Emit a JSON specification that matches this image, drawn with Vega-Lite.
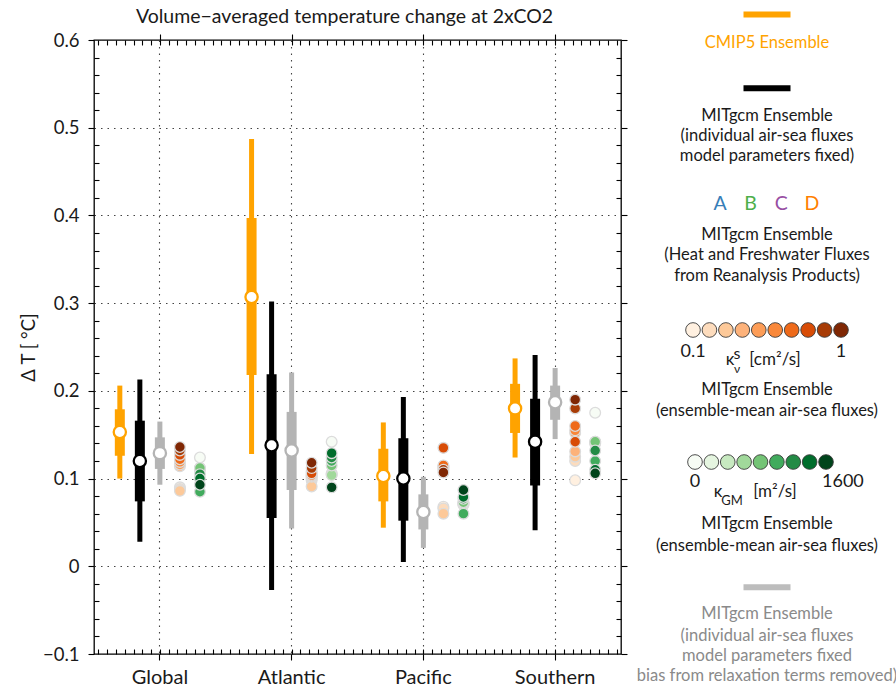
{
"$schema": "https://vega.github.io/schema/vega-lite/v6.json",
"width": 527, "height": 614,
"autosize": "none",
"padding": {"left": 94, "top": 40, "right": 275, "bottom": 36},
"background": "white",
"config": {
  "font": "Lato, DejaVu Sans, sans-serif",
  "view": {"stroke": "#000", "strokeWidth": 1.3},
  "legend": {"disable": true},
  "axis": {"labelColor": "#1a1a1a", "titleColor": "#1a1a1a", "tickColor": "#000", "tickWidth": 1.1, "domain": false, "grid": false, "titleFontWeight": "normal"}
},
"title": {"text": "Volume\u2212averaged temperature change at 2xCO2", "fontSize": 19.5, "fontWeight": "normal", "color": "#1a1a1a", "anchor": "middle", "frame": "group", "offset": -25, "dx": -13},
"datasets": {
  "stats": [
    {"region": "Global", "series": "CMIP5", "lo": 0.100, "q1": 0.126, "med": 0.153, "q3": 0.179, "hi": 0.206},
    {"region": "Global", "series": "MITfix", "lo": 0.028, "q1": 0.074, "med": 0.120, "q3": 0.166, "hi": 0.213},
    {"region": "Global", "series": "MITrem", "lo": 0.093, "q1": 0.111, "med": 0.129, "q3": 0.147, "hi": 0.165},
    {"region": "Atlantic", "series": "CMIP5", "lo": 0.128, "q1": 0.218, "med": 0.307, "q3": 0.397, "hi": 0.487},
    {"region": "Atlantic", "series": "MITfix", "lo": -0.027, "q1": 0.055, "med": 0.138, "q3": 0.219, "hi": 0.302},
    {"region": "Atlantic", "series": "MITrem", "lo": 0.043, "q1": 0.087, "med": 0.132, "q3": 0.176, "hi": 0.221},
    {"region": "Pacific", "series": "CMIP5", "lo": 0.044, "q1": 0.074, "med": 0.103, "q3": 0.134, "hi": 0.164},
    {"region": "Pacific", "series": "MITfix", "lo": 0.005, "q1": 0.052, "med": 0.100, "q3": 0.146, "hi": 0.193},
    {"region": "Pacific", "series": "MITrem", "lo": 0.021, "q1": 0.042, "med": 0.062, "q3": 0.082, "hi": 0.102},
    {"region": "Southern", "series": "CMIP5", "lo": 0.124, "q1": 0.152, "med": 0.180, "q3": 0.208, "hi": 0.237},
    {"region": "Southern", "series": "MITfix", "lo": 0.041, "q1": 0.092, "med": 0.142, "q3": 0.191, "hi": 0.241},
    {"region": "Southern", "series": "MITrem", "lo": 0.145, "q1": 0.167, "med": 0.187, "q3": 0.206, "hi": 0.226}
  ],
  "sweep": [
    {"region": "Global", "ens": "Kv", "param": 0.1, "dT": 0.090},
    {"region": "Global", "ens": "Kv", "param": 0.2, "dT": 0.088},
    {"region": "Global", "ens": "Kv", "param": 0.3, "dT": 0.086},
    {"region": "Global", "ens": "Kv", "param": 0.4, "dT": 0.114},
    {"region": "Global", "ens": "Kv", "param": 0.5, "dT": 0.116},
    {"region": "Global", "ens": "Kv", "param": 0.6, "dT": 0.119},
    {"region": "Global", "ens": "Kv", "param": 0.7, "dT": 0.122},
    {"region": "Global", "ens": "Kv", "param": 0.8, "dT": 0.127},
    {"region": "Global", "ens": "Kv", "param": 0.9, "dT": 0.132},
    {"region": "Global", "ens": "Kv", "param": 1, "dT": 0.136},
    {"region": "Global", "ens": "KGM", "param": 0, "dT": 0.124},
    {"region": "Global", "ens": "KGM", "param": 200, "dT": 0.112},
    {"region": "Global", "ens": "KGM", "param": 400, "dT": 0.111},
    {"region": "Global", "ens": "KGM", "param": 600, "dT": 0.110},
    {"region": "Global", "ens": "KGM", "param": 800, "dT": 0.112},
    {"region": "Global", "ens": "KGM", "param": 1000, "dT": 0.085},
    {"region": "Global", "ens": "KGM", "param": 1200, "dT": 0.105},
    {"region": "Global", "ens": "KGM", "param": 1400, "dT": 0.100},
    {"region": "Global", "ens": "KGM", "param": 1600, "dT": 0.093},
    {"region": "Atlantic", "ens": "Kv", "param": 0.1, "dT": 0.098},
    {"region": "Atlantic", "ens": "Kv", "param": 0.2, "dT": 0.100},
    {"region": "Atlantic", "ens": "Kv", "param": 0.3, "dT": 0.091},
    {"region": "Atlantic", "ens": "Kv", "param": 0.4, "dT": 0.102},
    {"region": "Atlantic", "ens": "Kv", "param": 0.5, "dT": 0.103},
    {"region": "Atlantic", "ens": "Kv", "param": 0.6, "dT": 0.104},
    {"region": "Atlantic", "ens": "Kv", "param": 0.7, "dT": 0.108},
    {"region": "Atlantic", "ens": "Kv", "param": 0.8, "dT": 0.106},
    {"region": "Atlantic", "ens": "Kv", "param": 0.9, "dT": 0.112},
    {"region": "Atlantic", "ens": "Kv", "param": 1, "dT": 0.118},
    {"region": "Atlantic", "ens": "KGM", "param": 0, "dT": 0.142},
    {"region": "Atlantic", "ens": "KGM", "param": 200, "dT": 0.106},
    {"region": "Atlantic", "ens": "KGM", "param": 400, "dT": 0.105},
    {"region": "Atlantic", "ens": "KGM", "param": 600, "dT": 0.104},
    {"region": "Atlantic", "ens": "KGM", "param": 800, "dT": 0.115},
    {"region": "Atlantic", "ens": "KGM", "param": 1000, "dT": 0.120},
    {"region": "Atlantic", "ens": "KGM", "param": 1200, "dT": 0.124},
    {"region": "Atlantic", "ens": "KGM", "param": 1400, "dT": 0.129},
    {"region": "Atlantic", "ens": "KGM", "param": 1600, "dT": 0.090},
    {"region": "Pacific", "ens": "Kv", "param": 0.1, "dT": 0.068},
    {"region": "Pacific", "ens": "Kv", "param": 0.2, "dT": 0.066},
    {"region": "Pacific", "ens": "Kv", "param": 0.3, "dT": 0.060},
    {"region": "Pacific", "ens": "Kv", "param": 0.4, "dT": 0.112},
    {"region": "Pacific", "ens": "Kv", "param": 0.5, "dT": 0.113},
    {"region": "Pacific", "ens": "Kv", "param": 0.6, "dT": 0.114},
    {"region": "Pacific", "ens": "Kv", "param": 0.7, "dT": 0.115},
    {"region": "Pacific", "ens": "Kv", "param": 0.8, "dT": 0.135},
    {"region": "Pacific", "ens": "Kv", "param": 0.9, "dT": 0.110},
    {"region": "Pacific", "ens": "Kv", "param": 1, "dT": 0.107},
    {"region": "Pacific", "ens": "KGM", "param": 0, "dT": 0.070},
    {"region": "Pacific", "ens": "KGM", "param": 200, "dT": 0.071},
    {"region": "Pacific", "ens": "KGM", "param": 400, "dT": 0.072},
    {"region": "Pacific", "ens": "KGM", "param": 600, "dT": 0.072},
    {"region": "Pacific", "ens": "KGM", "param": 800, "dT": 0.073},
    {"region": "Pacific", "ens": "KGM", "param": 1000, "dT": 0.060},
    {"region": "Pacific", "ens": "KGM", "param": 1200, "dT": 0.077},
    {"region": "Pacific", "ens": "KGM", "param": 1400, "dT": 0.079},
    {"region": "Pacific", "ens": "KGM", "param": 1600, "dT": 0.087},
    {"region": "Southern", "ens": "Kv", "param": 0.1, "dT": 0.098},
    {"region": "Southern", "ens": "Kv", "param": 0.2, "dT": 0.120},
    {"region": "Southern", "ens": "Kv", "param": 0.3, "dT": 0.125},
    {"region": "Southern", "ens": "Kv", "param": 0.4, "dT": 0.131},
    {"region": "Southern", "ens": "Kv", "param": 0.5, "dT": 0.152},
    {"region": "Southern", "ens": "Kv", "param": 0.6, "dT": 0.155},
    {"region": "Southern", "ens": "Kv", "param": 0.7, "dT": 0.160},
    {"region": "Southern", "ens": "Kv", "param": 0.8, "dT": 0.142},
    {"region": "Southern", "ens": "Kv", "param": 0.9, "dT": 0.180},
    {"region": "Southern", "ens": "Kv", "param": 1, "dT": 0.190},
    {"region": "Southern", "ens": "KGM", "param": 0, "dT": 0.175},
    {"region": "Southern", "ens": "KGM", "param": 200, "dT": 0.140},
    {"region": "Southern", "ens": "KGM", "param": 400, "dT": 0.141},
    {"region": "Southern", "ens": "KGM", "param": 600, "dT": 0.142},
    {"region": "Southern", "ens": "KGM", "param": 800, "dT": 0.142},
    {"region": "Southern", "ens": "KGM", "param": 1000, "dT": 0.120},
    {"region": "Southern", "ens": "KGM", "param": 1200, "dT": 0.132},
    {"region": "Southern", "ens": "KGM", "param": 1400, "dT": 0.110},
    {"region": "Southern", "ens": "KGM", "param": 1600, "dT": 0.106}
  ],
  "legend": [
    {"kind": "line", "group": "CMIP5", "line": 0},
    {"kind": "text", "group": "CMIP5", "line": 1.4, "text": "CMIP5 Ensemble"},
    {"kind": "line", "group": "MITfix", "line": 3.6},
    {"kind": "text", "group": "MITfix", "line": 4.95, "text": "MITgcm Ensemble"},
    {"kind": "text", "group": "MITfix", "line": 5.93, "text": "(individual air-sea fluxes"},
    {"kind": "text", "group": "MITfix", "line": 6.9, "text": "model parameters fixed)"},
    {"kind": "letter", "letter": "A", "line": 9.25},
    {"kind": "letter", "letter": "B", "line": 9.25},
    {"kind": "letter", "letter": "C", "line": 9.25},
    {"kind": "letter", "letter": "D", "line": 9.25},
    {"kind": "text", "group": "Reanalysis", "line": 10.76, "text": "MITgcm Ensemble"},
    {"kind": "text", "group": "Reanalysis", "line": 11.73, "text": "(Heat and Freshwater Fluxes"},
    {"kind": "text", "group": "Reanalysis", "line": 12.76, "text": "from Reanalysis Products)"},
    {"kind": "kvk", "text": "\u03ba", "line": 16.85},
    {"kind": "kvs", "text": "s", "line": 16.85},
    {"kind": "kvnu", "text": "\u03bd", "line": 16.85},
    {"kind": "kvu", "text": "[cm\u00b2/s]", "line": 16.85},
    {"kind": "text", "group": "Kv", "line": 18.32, "text": "MITgcm Ensemble"},
    {"kind": "text", "group": "Kv", "line": 19.34, "text": "(ensemble-mean air-sea fluxes)"},
    {"kind": "gmk", "text": "\u03ba", "line": 23.29},
    {"kind": "gmsub", "text": "GM", "line": 23.29},
    {"kind": "gmu", "text": "[m\u00b2/s]", "line": 23.29},
    {"kind": "text", "group": "KGM", "line": 24.85, "text": "MITgcm Ensemble"},
    {"kind": "text", "group": "KGM", "line": 25.93, "text": "(ensemble-mean air-sea fluxes)"},
    {"kind": "line", "group": "MITrem", "line": 27.94},
    {"kind": "text", "group": "MITrem", "line": 29.24, "text": "MITgcm Ensemble"},
    {"kind": "text", "group": "MITrem", "line": 30.3, "text": "(individual air-sea fluxes"},
    {"kind": "text", "group": "MITrem", "line": 31.29, "text": "model parameters fixed"},
    {"kind": "text", "group": "MITrem", "line": 32.27, "text": "bias from relaxation terms removed)"}
  ],
  "kv": [{"kv": 0.1}, {"kv": 0.2}, {"kv": 0.3}, {"kv": 0.4}, {"kv": 0.5}, {"kv": 0.6}, {"kv": 0.7}, {"kv": 0.8}, {"kv": 0.9}, {"kv": 1}],
  "kgm": [{"kgm": 0}, {"kgm": 200}, {"kgm": 400}, {"kgm": 600}, {"kgm": 800}, {"kgm": 1000}, {"kgm": 1200}, {"kgm": 1400}, {"kgm": 1600}]
},
"layer": [
  {
    "layer": [
      {
        "data": {"name": "stats"},
        "mark": {"type": "rule", "strokeWidth": 5, "strokeCap": "butt"},
        "encoding": {
          "x": {"field": "region", "type": "nominal", "scale": {"domain": ["Global", "Atlantic", "Pacific", "Southern"], "paddingInner": 0.24, "paddingOuter": 0.12},
                "axis": {"orient": "bottom", "title": null, "labelFontSize": 20, "labelPadding": 7, "tickSize": 6, "labelAngle": 0, "grid": true, "gridDash": [1.5, 5], "gridColor": "#444", "gridWidth": 1.1}},
          "xOffset": {"field": "series", "type": "nominal", "scale": {"domain": ["CMIP5", "MITfix", "MITrem", "Kv", "KGM"]}},
          "y": {"field": "lo", "type": "quantitative", "scale": {"domain": [-0.1, 0.6], "nice": false, "zero": false},
                "axis": {"orient": "left", "values": [-0.1, 0, 0.1, 0.2, 0.3, 0.4, 0.5, 0.6], "labelExpr": "datum.value == 0 ? '0' : format(datum.value, '.1f')", "labelFontSize": 18.5, "labelPadding": 9, "tickSize": 6, "title": "\u0394 T [ \u00b0C]", "titleFontSize": 18.5, "titlePadding": 4, "grid": true, "gridDash": [1.5, 5], "gridColor": "#444", "gridWidth": 1.1}},
          "y2": {"field": "hi"},
          "stroke": {"field": "series", "type": "nominal", "scale": {"domain": ["CMIP5", "MITfix", "MITrem"], "range": ["#ffa300", "#000000", "#b4b4b4"]}, "legend": null}
        }
      },
      {
        "data": {"name": "stats"},
        "mark": {"type": "rule", "strokeWidth": 10, "strokeCap": "butt"},
        "encoding": {
          "x": {"field": "region", "type": "nominal"},
          "xOffset": {"field": "series", "type": "nominal"},
          "y": {"field": "q1", "type": "quantitative"},
          "y2": {"field": "q3"},
          "stroke": {"field": "series", "type": "nominal", "legend": null}
        }
      },
      {
        "data": {"name": "stats"},
        "mark": {"type": "point", "filled": true, "fill": "white", "size": 150, "strokeWidth": 2.3, "opacity": 1},
        "encoding": {
          "x": {"field": "region", "type": "nominal"},
          "xOffset": {"field": "series", "type": "nominal"},
          "y": {"field": "med", "type": "quantitative"},
          "stroke": {"field": "series", "type": "nominal", "legend": null}
        }
      },
      {
        "data": {"name": "sweep"},
        "transform": [{"filter": "datum.ens == 'Kv'"}],
        "mark": {"type": "point", "filled": true, "size": 115, "stroke": "#dcdcdc", "strokeWidth": 1.3, "opacity": 1},
        "encoding": {
          "x": {"field": "region", "type": "nominal"},
          "xOffset": {"field": "ens", "type": "nominal"},
          "y": {"field": "dT", "type": "quantitative"},
          "fill": {"field": "param", "type": "ordinal", "scale": {"domain": [0.1, 0.2, 0.3, 0.4, 0.5, 0.6, 0.7, 0.8, 0.9, 1], "range": ["#fff0e0", "#fddcbd", "#fdc999", "#fdb27a", "#fd9d57", "#f9883a", "#ee6a1a", "#d84c06", "#a83c06", "#7f2704"]}, "legend": null}
        }
      },
      {
        "data": {"name": "sweep"},
        "transform": [{"filter": "datum.ens == 'KGM'"}],
        "mark": {"type": "point", "filled": true, "size": 115, "stroke": "#dcdcdc", "strokeWidth": 1.3, "opacity": 1},
        "encoding": {
          "x": {"field": "region", "type": "nominal"},
          "xOffset": {"field": "ens", "type": "nominal"},
          "y": {"field": "dT", "type": "quantitative"},
          "fill": {"field": "param", "type": "ordinal", "scale": {"domain": [0, 200, 400, 600, 800, 1000, 1200, 1400, 1600], "range": ["#f7fcf5", "#e5f5e0", "#c7e9c0", "#a1d99b", "#74c476", "#41ab5d", "#238b45", "#006d2c", "#00441b"]}, "legend": null}
        }
      }
    ],
    "resolve": {"scale": {"fill": "independent"}}
  },
  {
    "data": {"name": "stats"},
    "mark": {"type": "point", "opacity": 0},
    "encoding": {
      "x": {"field": "med", "type": "quantitative", "scale": {"domain": [-7.5, 52.5], "nice": false, "zero": false},
            "axis": {"orient": "bottom", "tickCount": 60, "labels": false, "tickSize": 5, "offset": -5, "title": null, "grid": false, "domain": false}},
      "y": {"field": "med", "type": "quantitative", "scale": {"domain": [-0.1, 0.6], "nice": false, "zero": false},
            "axis": {"orient": "left", "values": [-0.08, -0.06, -0.04, -0.02, 0.02, 0.04, 0.06, 0.08, 0.12, 0.14, 0.16, 0.18, 0.22, 0.24, 0.26, 0.28, 0.32, 0.34, 0.36, 0.38, 0.42, 0.44, 0.46, 0.48, 0.52, 0.54, 0.56, 0.58], "labels": false, "tickSize": 5, "offset": -5, "title": null, "grid": false, "domain": false}}
    }
  },
  {
    "data": {"name": "stats"},
    "mark": {"type": "point", "opacity": 0},
    "encoding": {
      "x": {"field": "med", "type": "quantitative", "scale": {"domain": [-7.5, 52.5], "nice": false, "zero": false},
            "axis": {"orient": "top", "tickCount": 60, "labels": false, "tickSize": 5, "offset": -5, "title": null, "grid": false, "domain": false}},
      "y": {"field": "med", "type": "quantitative", "scale": {"domain": [-0.1, 0.6], "nice": false, "zero": false},
            "axis": {"orient": "right", "values": [-0.08, -0.06, -0.04, -0.02, 0.02, 0.04, 0.06, 0.08, 0.12, 0.14, 0.16, 0.18, 0.22, 0.24, 0.26, 0.28, 0.32, 0.34, 0.36, 0.38, 0.42, 0.44, 0.46, 0.48, 0.52, 0.54, 0.56, 0.58], "labels": false, "tickSize": 5, "offset": -5, "title": null, "grid": false, "domain": false}}
    }
  },
  {
    "data": {"name": "stats"},
    "mark": {"type": "point", "opacity": 0},
    "encoding": {
      "x": {"field": "med", "type": "quantitative", "scale": {"domain": [-7.5, 52.5], "nice": false, "zero": false},
            "axis": {"orient": "top", "values": [0, 15, 30, 45], "labels": false, "tickSize": 6, "title": null, "grid": false, "domain": false}},
      "y": {"field": "med", "type": "quantitative", "scale": {"domain": [-0.1, 0.6], "nice": false, "zero": false},
            "axis": {"orient": "right", "values": [-0.1, 0, 0.1, 0.2, 0.3, 0.4, 0.5, 0.6], "labels": false, "tickSize": 6, "title": null, "grid": false, "domain": false}}
    }
  },
  {
    "layer": [
      {
        "layer": [
          {
            "data": {"name": "legend"},
            "transform": [{"filter": "datum.kind == 'line'"}],
            "mark": {"type": "point", "shape": "stroke", "size": 2209, "strokeWidth": 6, "filled": false, "opacity": 1, "strokeCap": "butt"},
            "encoding": {
              "x": {"datum": 0, "type": "quantitative", "scale": {"domain": [-1, 1], "range": [657, 689], "nice": false, "zero": false}, "axis": null},
              "y": {"field": "line", "type": "quantitative", "scale": {"domain": [0, 32], "range": [-25.5, 630.5], "nice": false, "zero": false}, "axis": null},
              "stroke": {"field": "group", "type": "nominal", "scale": {"domain": ["CMIP5", "MITfix", "MITrem"], "range": ["#ffa300", "#000000", "#bdbdbd"]}, "legend": null}
            }
          },
          {
            "data": {"name": "legend"},
            "transform": [{"filter": "datum.kind == 'text'"}],
            "mark": {"type": "text", "fontSize": 16.5, "baseline": "middle", "align": "center"},
            "encoding": {
              "x": {"datum": 0, "type": "quantitative"},
              "y": {"field": "line", "type": "quantitative"},
              "text": {"field": "text"},
              "color": {"field": "group", "type": "nominal", "scale": {"domain": ["CMIP5", "MITfix", "Reanalysis", "Kv", "KGM", "MITrem"], "range": ["#ffa300", "#1a1a1a", "#1a1a1a", "#1a1a1a", "#1a1a1a", "#8a8a8a"]}, "legend": null}
            }
          },
          {
            "data": {"name": "legend"},
            "transform": [{"filter": "datum.kind == 'kvk'"}],
            "mark": {"type": "text", "fontSize": 17, "baseline": "middle", "align": "center", "dx": -37, "color": "#1a1a1a"},
            "encoding": {"x": {"datum": 0, "type": "quantitative"}, "y": {"field": "line", "type": "quantitative"}, "text": {"field": "text"}}
          },
          {
            "data": {"name": "legend"},
            "transform": [{"filter": "datum.kind == 'kvs'"}],
            "mark": {"type": "text", "fontSize": 16, "baseline": "middle", "align": "center", "dx": -30, "dy": -6, "color": "#1a1a1a"},
            "encoding": {"x": {"datum": 0, "type": "quantitative"}, "y": {"field": "line", "type": "quantitative"}, "text": {"field": "text"}}
          },
          {
            "data": {"name": "legend"},
            "transform": [{"filter": "datum.kind == 'kvnu'"}],
            "mark": {"type": "text", "fontSize": 12, "baseline": "middle", "align": "center", "dx": -30, "dy": 9, "color": "#1a1a1a"},
            "encoding": {"x": {"datum": 0, "type": "quantitative"}, "y": {"field": "line", "type": "quantitative"}, "text": {"field": "text"}}
          },
          {
            "data": {"name": "legend"},
            "transform": [{"filter": "datum.kind == 'kvu'"}],
            "mark": {"type": "text", "fontSize": 17, "baseline": "middle", "align": "center", "dx": 8, "color": "#1a1a1a"},
            "encoding": {"x": {"datum": 0, "type": "quantitative"}, "y": {"field": "line", "type": "quantitative"}, "text": {"field": "text"}}
          },
          {
            "data": {"name": "legend"},
            "transform": [{"filter": "datum.kind == 'gmk'"}],
            "mark": {"type": "text", "fontSize": 17, "baseline": "middle", "align": "center", "dx": -49, "color": "#1a1a1a"},
            "encoding": {"x": {"datum": 0, "type": "quantitative"}, "y": {"field": "line", "type": "quantitative"}, "text": {"field": "text"}}
          },
          {
            "data": {"name": "legend"},
            "transform": [{"filter": "datum.kind == 'gmsub'"}],
            "mark": {"type": "text", "fontSize": 13, "baseline": "middle", "align": "center", "dx": -35, "dy": 9, "color": "#1a1a1a"},
            "encoding": {"x": {"datum": 0, "type": "quantitative"}, "y": {"field": "line", "type": "quantitative"}, "text": {"field": "text"}}
          },
          {
            "data": {"name": "legend"},
            "transform": [{"filter": "datum.kind == 'gmu'"}],
            "mark": {"type": "text", "fontSize": 17, "baseline": "middle", "align": "center", "dx": 8, "color": "#1a1a1a"},
            "encoding": {"x": {"datum": 0, "type": "quantitative"}, "y": {"field": "line", "type": "quantitative"}, "text": {"field": "text"}}
          }
        ]
      },
      {
        "data": {"name": "legend"},
        "transform": [{"filter": "datum.kind == 'letter'"}],
        "mark": {"type": "text", "fontSize": 19.5, "baseline": "middle", "align": "center"},
        "encoding": {
          "x": {"field": "letter", "type": "nominal", "scale": {"type": "point", "domain": ["A", "B", "C", "D"], "range": [626, 718], "padding": 0}, "axis": null},
          "y": {"field": "line", "type": "quantitative"},
          "text": {"field": "letter"},
          "color": {"field": "letter", "type": "nominal", "scale": {"domain": ["A", "B", "C", "D"], "range": ["#377eb8", "#4daf4a", "#984ea3", "#ff7f00"]}, "legend": null}
        }
      },
      {
        "layer": [
          {
            "data": {"name": "kv"},
            "mark": {"type": "point", "filled": true, "size": 215, "stroke": "#3a3a3a", "strokeWidth": 0.9, "opacity": 1},
            "encoding": {
              "x": {"field": "kv", "type": "ordinal", "scale": {"type": "point", "range": [599, 747], "padding": 0}, "axis": null},
              "y": {"datum": 15.39, "type": "quantitative"},
              "fill": {"field": "kv", "type": "ordinal", "scale": {"range": ["#fff0e0", "#fddcbd", "#fdc999", "#fdb27a", "#fd9d57", "#f9883a", "#ee6a1a", "#d84c06", "#a83c06", "#7f2704"]}, "legend": null}
            }
          },
          {
            "data": {"name": "kv"},
            "transform": [{"filter": "datum.kv == 0.1 || datum.kv == 1"}],
            "mark": {"type": "text", "fontSize": 18, "baseline": "middle", "align": "center", "color": "#1a1a1a"},
            "encoding": {
              "x": {"field": "kv", "type": "ordinal"},
              "y": {"datum": 16.46, "type": "quantitative"},
              "text": {"field": "kv", "type": "nominal"}
            }
          }
        ]
      },
      {
        "layer": [
          {
            "data": {"name": "kgm"},
            "mark": {"type": "point", "filled": true, "size": 215, "stroke": "#3a3a3a", "strokeWidth": 0.9, "opacity": 1},
            "encoding": {
              "x": {"field": "kgm", "type": "ordinal", "scale": {"type": "point", "range": [601, 732], "padding": 0}, "axis": null},
              "y": {"datum": 21.83, "type": "quantitative"},
              "fill": {"field": "kgm", "type": "ordinal", "scale": {"range": ["#f7fcf5", "#e5f5e0", "#c7e9c0", "#a1d99b", "#74c476", "#41ab5d", "#238b45", "#006d2c", "#00441b"]}, "legend": null}
            }
          },
          {
            "data": {"name": "kgm"},
            "transform": [{"filter": "datum.kgm == 0"}],
            "mark": {"type": "text", "fontSize": 18, "baseline": "middle", "align": "center", "color": "#1a1a1a"},
            "encoding": {
              "x": {"field": "kgm", "type": "ordinal"},
              "y": {"datum": 22.8, "type": "quantitative"},
              "text": {"field": "kgm", "type": "nominal"}
            }
          },
          {
            "data": {"name": "kgm"},
            "transform": [{"filter": "datum.kgm == 1600"}],
            "mark": {"type": "text", "fontSize": 18, "baseline": "middle", "align": "left", "dx": -4, "color": "#1a1a1a"},
            "encoding": {
              "x": {"field": "kgm", "type": "ordinal"},
              "y": {"datum": 22.8, "type": "quantitative"},
              "text": {"field": "kgm", "type": "nominal"}
            }
          }
        ]
      }
    ],
    "resolve": {"scale": {"x": "independent", "color": "independent", "fill": "independent", "stroke": "independent"}}
  }
],
"resolve": {"scale": {"x": "independent", "y": "independent", "fill": "independent", "stroke": "independent", "color": "independent", "xOffset": "independent"}}
}
